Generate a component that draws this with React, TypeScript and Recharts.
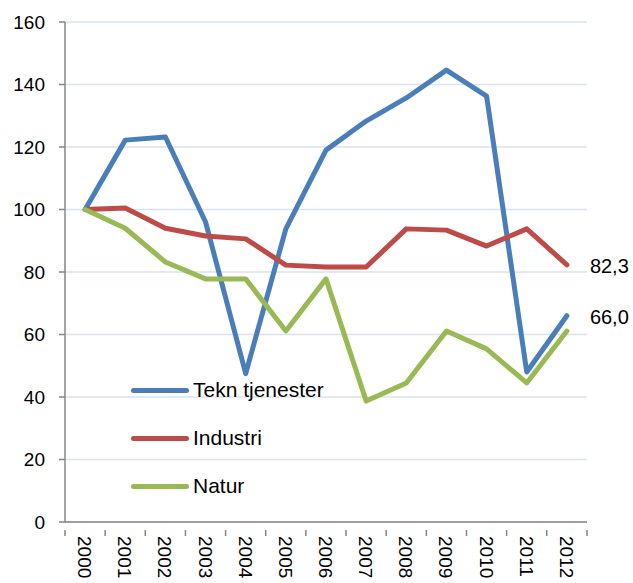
import { LineChart, Line, XAxis, YAxis, CartesianGrid, LabelList } from 'recharts';

const years = ['2000', '2001', '2002', '2003', '2004', '2005', '2006', '2007', '2008', '2009', '2010', '2011', '2012'];
const teknTjenester = [100, 122.2, 123.2, 96, 47.5, 93.8, 119, 128.3, 135.7, 144.6, 136.3, 48, 66.0];
const industri = [100, 100.5, 94, 91.5, 90.6, 82.2, 81.6, 81.6, 93.8, 93.4, 88.3, 93.8, 82.3];
const natur = [100, 94, 83.2, 77.8, 77.8, 61.1, 77.8, 38.7, 44.5, 61.1, 55.4, 44.5, 61.1];
const yTicks = [0, 20, 40, 60, 80, 100, 120, 140, 160];

const data = years.map((year, i) => ({
  year,
  tekn: teknTjenester[i],
  industri: industri[i],
  natur: natur[i],
}));

const series = [
  { key: 'tekn', name: 'Tekn tjenester', color: '#4A7EBB', showEnd: true },
  { key: 'industri', name: 'Industri', color: '#BE4B48', showEnd: true },
  { key: 'natur', name: 'Natur', color: '#98B954', showEnd: false },
];

const FONT = 'Arial, "Liberation Sans", sans-serif';
const PLOT_W = 523;
const HALF_STEP = PLOT_W / (years.length * 2);

// Excel-style rotated year labels, tick marks sit between the categories
const YearTick = (props: any) => {
  const { x, y, payload, index } = props;
  return (
    <g>
      <line x1={x - HALF_STEP} y1={y} x2={x - HALF_STEP} y2={y + 6} stroke="#868686" strokeWidth={1.5} />
      {index === years.length - 1 && (
        <line x1={x + HALF_STEP} y1={y} x2={x + HALF_STEP} y2={y + 6} stroke="#868686" strokeWidth={1.5} />
      )}
      <text
        transform={`translate(${x - 7}, ${y + 6}) rotate(90)`}
        fontSize={19}
        fill="#000"
        fontFamily={FONT}
        textAnchor="start"
      >
        {payload.value}
      </text>
    </g>
  );
};

const endLabel = (total: number) => (props: any) => {
  const { x, y, value, index } = props;
  if (index !== total - 1) return null;
  return (
    <text x={x + 23} y={y + 8} fontSize={20} fontFamily={FONT} fill="#000">
      {Number(value).toFixed(1).replace('.', ',')}
    </text>
  );
};

const LegendBox = () => (
  <div style={{ position: 'absolute', left: 131, top: 378, fontFamily: FONT, fontSize: 21 }}>
    {series.map((s) => (
      <div key={s.key} style={{ display: 'flex', alignItems: 'center', height: 24, marginBottom: 24 }}>
        <span
          style={{ width: 58, height: 5, borderRadius: 3, background: s.color, display: 'inline-block', marginRight: 4 }}
        />
        <span>{s.name}</span>
      </div>
    ))}
  </div>
);

export default function App() {
  return (
    <div style={{ position: 'relative', width: 633, height: 583, background: '#fff', overflow: 'hidden' }}>
      <style>{`body{margin:0}`}</style>
      <LineChart width={633} height={583} data={data} margin={{ top: 22, right: 46, left: 0, bottom: 0 }}>
        <CartesianGrid vertical={false} stroke="#D9E4F1" strokeWidth={1.5} />
        <XAxis
          dataKey="year"
          interval={0}
          height={61}
          padding={{ left: HALF_STEP, right: HALF_STEP }}
          tickLine={false}
          axisLine={{ stroke: '#868686', strokeWidth: 1.5 }}
          tick={<YearTick />}
        />
        <YAxis
          domain={[0, 160]}
          ticks={yTicks}
          width={65}
          tickSize={6}
          tickMargin={14}
          axisLine={{ stroke: '#868686', strokeWidth: 1.5 }}
          tickLine={{ stroke: '#868686', strokeWidth: 1.5 }}
          tick={{ fontSize: 19, fill: '#000', fontFamily: FONT }}
        />
        {series.map((s) => (
          <Line
            key={s.key}
            dataKey={s.key}
            name={s.name}
            stroke={s.color}
            strokeWidth={5}
            strokeLinecap="round"
            strokeLinejoin="round"
            dot={false}
            type="linear"
            isAnimationActive={false}
          >
            {s.showEnd && <LabelList dataKey={s.key} content={endLabel(years.length)} />}
          </Line>
        ))}
      </LineChart>
      <LegendBox />
    </div>
  );
}
